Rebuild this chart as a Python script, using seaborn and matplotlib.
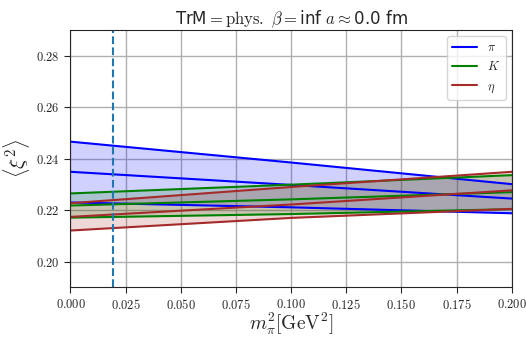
import numpy as np
import pandas as pd
import matplotlib
matplotlib.use("Agg")
import matplotlib.pyplot as plt
import seaborn as sns

# values at m_pi^2 = 0, 0.1, 0.2
msq = [0.0, 0.1, 0.2]
pi_upper = [0.2466, 0.2385, 0.2301]
pi_central = [0.2349, 0.2298, 0.2245]
pi_lower = [0.2230, 0.2211, 0.2188]
k_upper = [0.2265, 0.2299, 0.2336]
k_central = [0.2218, 0.2242, 0.2270]
k_lower = [0.2171, 0.2185, 0.2204]
eta_upper = [0.2227, 0.2290, 0.2349]
eta_central = [0.2174, 0.2222, 0.2277]
eta_lower = [0.2121, 0.2170, 0.2205]
mpi_phys_sq = 0.0193

labels = [r"$\pi$", r"$K$", r"$\eta$"]
colors = ["blue", "green", "#a52a2a"]
bands = [(pi_lower, pi_central, pi_upper),
         (k_lower, k_central, k_upper),
         (eta_lower, eta_central, eta_upper)]

sns.set_style("ticks")
plt.rcParams["mathtext.fontset"] = "cm"

fig = plt.figure(figsize=(5.26, 3.39), dpi=100)
ax = fig.add_axes([0.134, 0.152, 0.839, 0.76])

for lab, col, (lo, mid, hi) in zip(labels, colors, bands):
    df = pd.DataFrame({"x": msq * 3,
                       "y": lo + mid + hi,
                       "part": ["lo"] * 3 + ["mid"] * 3 + ["hi"] * 3})
    ax.fill_between(msq, lo, hi, color=col, alpha=0.18, lw=0)
    for part in ["lo", "mid", "hi"]:
        sns.lineplot(data=df[df.part == part], x="x", y="y", ax=ax, color=col,
                     lw=1.5, label=lab if part == "mid" else None)

ax.axvline(mpi_phys_sq, color="#1f77b4", ls="--", lw=1.5)

ax.set_xlim(0, 0.2)
ax.set_ylim(0.19, 0.29)
ax.set_xticks(np.arange(0, 0.2001, 0.025))
ax.set_yticks([0.20, 0.22, 0.24, 0.26, 0.28])
ax.xaxis.set_major_formatter(plt.FuncFormatter(lambda v, p: r"$%.3f$" % v))
ax.yaxis.set_major_formatter(plt.FuncFormatter(lambda v, p: r"$%.2f$" % v))
ax.tick_params(labelsize=9, length=4)
ax.grid(True, color="#b0b0b0", lw=1)
ax.set_axisbelow(True)

ax.set_xlabel(r"$m_\pi^2[\mathrm{GeV}^2]$", fontsize=14, labelpad=-1)
ax.set_ylabel(r"$\langle\xi^2\rangle$", fontsize=15, labelpad=3)
ax.set_title(r"TrM$=\mathrm{phys.}\ \beta=$inf $a\approx$0.0 fm", fontsize=12, pad=4)

ax.legend(loc="upper right", fontsize=9, framealpha=0.8)

fig.savefig("out.png", dpi=100)
